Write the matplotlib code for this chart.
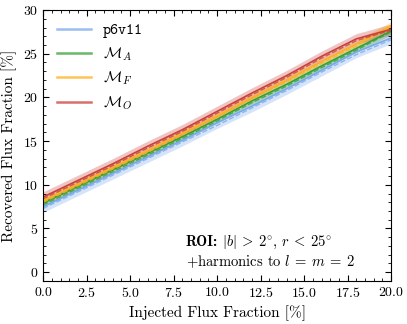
import numpy as np
import matplotlib
matplotlib.use("Agg")
import matplotlib.pyplot as plt
from matplotlib.ticker import MultipleLocator
from matplotlib.offsetbox import TextArea, HPacker, VPacker, AnchoredOffsetbox

plt.rcParams["font.family"] = "serif"
plt.rcParams["font.serif"] = ["cmr10"]
plt.rcParams["mathtext.fontset"] = "cm"
plt.rcParams["axes.formatter.use_mathtext"] = True

# Données
injected = [0, 2, 4, 6, 8, 10, 12, 14, 16, 18, 20]
labels = ["p6v11", r"$\mathcal{M}_A$", r"$\mathcal{M}_F$", r"$\mathcal{M}_O$"]
colors = ["#7aa8ee", "#35a035", "#ffb020", "#c8403a"]

mean_p6v11 = [7.5, 9.4, 11.3, 13.2, 15.1, 17.1, 19.0, 21.0, 23.1, 25.2, 26.8]
mean_MA = [7.9, 9.8, 11.7, 13.6, 15.5, 17.5, 19.6, 21.5, 23.6, 25.6, 27.6]
mean_MF = [8.2, 10.1, 12.0, 13.9, 15.9, 17.9, 20.0, 22.0, 24.1, 26.1, 28.2]
mean_MO = [8.6, 10.5, 12.4, 14.4, 16.3, 18.4, 20.5, 22.5, 24.7, 26.7, 27.8]

med_p6v11 = [7.3, 9.2, 11.1, 13.0, 14.9, 16.8, 18.8, 20.8, 22.9, 24.9, 26.6]
med_MA = [7.7, 9.6, 11.5, 13.4, 15.3, 17.3, 19.4, 21.3, 23.4, 25.4, 27.5]
med_MF = [8.0, 9.9, 11.8, 13.7, 15.7, 17.7, 19.8, 21.8, 23.9, 25.9, 28.1]
med_MO = [8.4, 10.3, 12.2, 14.2, 16.1, 18.2, 20.3, 22.3, 24.5, 26.5, 27.7]

spread = [0.65, 0.45, 0.45, 0.6]

means = [mean_p6v11, mean_MA, mean_MF, mean_MO]
medians = [med_p6v11, med_MA, med_MF, med_MO]

fig = plt.figure(figsize=(4.07, 3.24), dpi=100)
ax = fig.add_axes([0.106, 0.133, 0.855, 0.836])

for m, md, s, c, lab in zip(means, medians, spread, colors, labels):
    m = np.array(m)
    ax.fill_between(injected, m - s, m + s, color=c, alpha=0.3, lw=0)
    ax.plot(injected, m, color=c, lw=1.2, label=lab)
    ax.plot(injected, md, color=c, lw=1.0, ls="--", alpha=0.8)

ax.set_xlim(0, 20)
ax.set_ylim(-1, 30)
ax.xaxis.set_major_locator(MultipleLocator(2.5))
ax.xaxis.set_minor_locator(MultipleLocator(0.5))
ax.yaxis.set_major_locator(MultipleLocator(5))
ax.yaxis.set_minor_locator(MultipleLocator(1))
ax.tick_params(which="both", direction="in", top=True, right=True, labelsize=10)
ax.tick_params(which="major", length=4)
ax.tick_params(which="minor", length=2)

ax.set_xlabel("Injected Flux Fraction [%]", fontsize=11)
ax.set_ylabel("Recovered Flux Fraction [%]", fontsize=11)

leg = ax.legend(loc="upper left", frameon=False, fontsize=11, handlelength=2.2,
                borderaxespad=0.5, labelspacing=0.45)
for line in leg.get_lines():
    line.set_linewidth(1.8)
    line.set_alpha(0.75)
leg.get_texts()[0].set_fontfamily("cmtt10")

# Encadré ROI (gras + maths)
fs = 10.5
t_bold = TextArea("ROI:", textprops=dict(fontsize=fs, fontfamily="cmb10"))
t_roi = TextArea(r"$|b|\:>\:2^{\circ}$, $r\:<\:25^{\circ}$", textprops=dict(fontsize=fs))
t_harm = TextArea(r"+harmonics to $l\:=\:m\:=\:2$", textprops=dict(fontsize=fs))
line1 = HPacker(children=[t_bold, t_roi], pad=0, sep=3, align="baseline")
box = VPacker(children=[line1, t_harm], pad=0, sep=2, align="left")
anchored = AnchoredOffsetbox(loc="lower right", child=box, frameon=False,
                             bbox_to_anchor=(0.895, 0.04), bbox_transform=ax.transAxes,
                             borderpad=0, pad=0)
ax.add_artist(anchored)

fig.savefig("out.png", dpi=100)
